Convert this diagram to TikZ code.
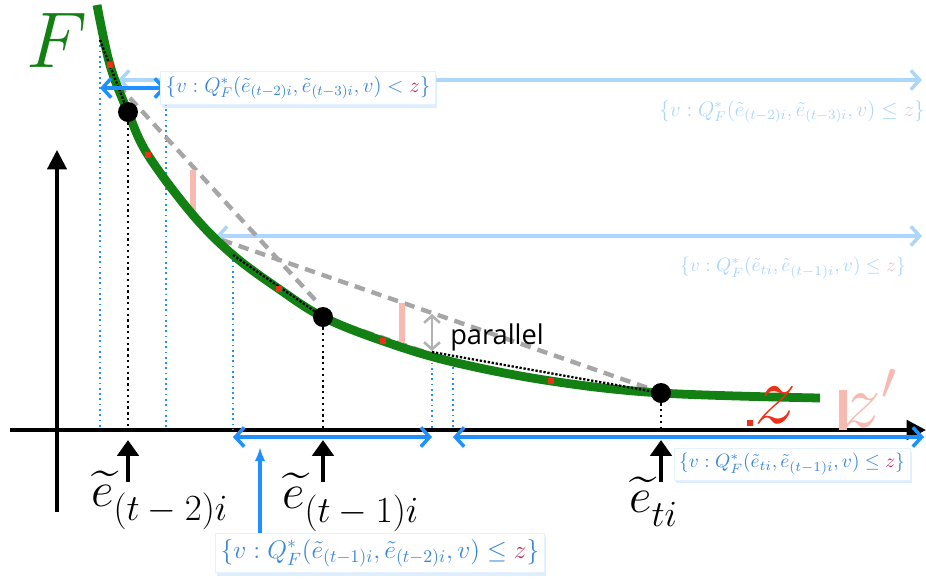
\RequirePackage{fix-cm}
\documentclass[tikz,border=0pt]{standalone}
\usepackage{amsmath}
\usepackage{amssymb}
\usepackage{fontspec}
\usepackage{xcolor}
\newfontfamily\notefont{Open Sans}
\usetikzlibrary{arrows.meta,shadows}

\definecolor{curvegreen}{RGB}{18,128,18}
\definecolor{setblue}{RGB}{30,144,255}
\definecolor{fadeblue}{RGB}{172,214,250}
\definecolor{textblue}{RGB}{55,135,220}
\definecolor{zred}{RGB}{200,40,85}
\definecolor{barpink}{RGB}{248,186,176}
\definecolor{markred}{RGB}{235,50,25}

% argument label with a large subscript
\newcommand{\elab}[1]{$\widetilde{e}_{\raisebox{-4pt}{\fontsize{21}{25}\selectfont$#1$}}$}

\begin{document}
\begin{tikzpicture}[x=0.02cm, y=-0.02cm]
  % Style definitions
  \tikzstyle{setbox} = [fill=white, draw=setblue!12, inner sep=3pt, text=textblue, drop shadow={shadow xshift=1pt, shadow yshift=-2pt, fill=setblue!30, opacity=0.5}]
  \tikzstyle{fadetext} = [text=fadeblue, inner sep=0pt]
  \tikzstyle{dot} = [circle, fill=black, inner sep=0pt, minimum size=0.4cm]
  \tikzstyle{redmark} = [fill=markred, inner sep=0pt, minimum size=0.13cm]
  \tikzstyle{elabel} = [font=\fontsize{28}{32}\selectfont, inner sep=0pt, anchor=base west]
  \tikzstyle{guide} = [setblue, dotted, line width=1pt]
  \tikzstyle{drop} = [black, dotted, line width=1.3pt]
  \tikzstyle{chord} = [black!35, line width=2.5pt, dash pattern=on 6pt off 4pt]
  \tikzstyle{bar} = [barpink, line width=3.5pt]
  \tikzstyle{setarrow} = [setblue, line width=2pt, {Straight Barb[length=5pt,width=11pt]}-{Straight Barb[length=5pt,width=11pt]}]
  \tikzstyle{fadearrow} = [fadeblue, line width=2pt, {Straight Barb[length=5pt,width=11pt]}-{Straight Barb[length=5pt,width=11pt]}]
  \tikzstyle{uparrow} = [black, line width=2.8pt, -{Triangle[length=9pt,width=12pt]}]

  \useasboundingbox (0,0) rectangle (926,579);

  % Faded sets
  \coordinate (fa1) at (118,80);  \coordinate (fb1) at (922,80);
  \coordinate (fa2) at (216,236); \coordinate (fb2) at (922,236);
  \draw[fadearrow] (fa1) -- (fb1);
  \draw[fadearrow] (fa2) -- (fb2);
  \node (fset1) [fadetext, font=\fontsize{12}{14}\selectfont] at (792,112) {$\{v : Q_F^*(\tilde e_{(t-2)i}, \tilde e_{(t-3)i}, v) \le \textcolor{zred!30}{z}\}$};
  \node (fset2) [fadetext, font=\fontsize{11}{13}\selectfont] at (793,268) {$\{v : Q_F^*(\tilde e_{ti}, \tilde e_{(t-1)i}, v) \le \textcolor{zred!30}{z}\}$};

  % Axes
  \coordinate (xa) at (10,430);  \coordinate (xb) at (926,430);
  \coordinate (ya) at (57,512);  \coordinate (yb) at (57,150);
  \draw[black, line width=2.3pt, -{Triangle[length=11pt,width=11pt]}] (xa) -- (xb);
  \draw[black, line width=1.8pt, -{Triangle[length=11pt,width=11pt]}] (ya) -- (yb);

  % Blue guide lines
  \foreach \gx/\gy in {100/40, 166/88, 233/255, 432/352, 453/362}
    \draw[guide] (\gx,\gy) -- (\gx,430);

  % Chords
  \coordinate (c1a) at (118,85);  \coordinate (c1b) at (318,303);
  \coordinate (c2a) at (222,240); \coordinate (c2b) at (648,388);
  \coordinate (c3a) at (330,320); \coordinate (c3b) at (455,362);
  \draw[chord] (c1a) -- (c1b);
  \draw[chord] (c2a) -- (c2b);
  \draw[chord] (c3a) -- (c3b);

  % Gaps
  \coordinate (g1a) at (193,170); \coordinate (g1b) at (193,215);
  \coordinate (g2a) at (402,303); \coordinate (g2b) at (402,346);
  \draw[bar] (g1a) -- (g1b);
  \draw[bar] (g2a) -- (g2b);
  \coordinate (pa) at (432,314); \coordinate (pb) at (432,351);
  \draw[black!30, line width=1.5pt, {Straight Barb[length=4pt,width=9pt]}-{Straight Barb[length=4pt,width=9pt]}] (pa) -- (pb);
  \node (par) [font=\notefont\fontsize{15.5}{18}\selectfont] at (497,337) {parallel};

  % Curve
  \draw[curvegreen, line width=5pt] plot[smooth, tension=0.6] coordinates {(97,5) (110,65) (128,112) (148,155) (193,215) (233,255) (279,289) (323,317) (383,341) (453,362) (551,381) (661,393) (820,398)};
  \coordinate (s1a) at (100,40);  \coordinate (s1b) at (128,112);
  \coordinate (s2a) at (233,255); \coordinate (s2b) at (323,317);
  \coordinate (s3a) at (432,352); \coordinate (s3b) at (661,393);
  \draw[drop, densely dotted] (s1a) -- (s1b);
  \draw[drop, densely dotted] (s2a) -- (s2b);
  \draw[drop, densely dotted] (s3a) -- (s3b);

  % Marks on the curve
  \foreach \mx/\my in {110/65, 148/155, 279/289, 383/341, 551/381, 750/423}
    \node[redmark] at (\mx,\my) {};

  % Points
  \node (e2) [dot] at (128,112) {};
  \node (e1) [dot] at (323,317) {};
  \node (e0) [dot] at (661,393) {};
  \coordinate (e2x) at (128,430);
  \coordinate (e1x) at (323,430);
  \coordinate (e0x) at (661,430);
  \draw[drop] (e2) -- (e2x);
  \draw[drop] (e1) -- (e1x);
  \draw[drop] (e0) -- (e0x);

  % Set arrows
  \coordinate (a1) at (100,88);  \coordinate (b1) at (166,88);
  \coordinate (a2) at (233,437); \coordinate (b2) at (432,437);
  \coordinate (a3) at (453,437); \coordinate (b3) at (924,437);
  \draw[setarrow] (a1) -- (b1);
  \draw[setarrow] (a2) -- (b2);
  \draw[setarrow] (a3) -- (b3);

  % Arguments
  \coordinate (u2) at (128,482); \coordinate (t2) at (128,440);
  \coordinate (u1) at (323,482); \coordinate (t1) at (323,440);
  \coordinate (u0) at (661,482); \coordinate (t0) at (661,440);
  \draw[uparrow] (u2) -- (t2);
  \draw[uparrow] (u1) -- (t1);
  \draw[uparrow] (u0) -- (t0);
  \node (le2) [elabel] at (91,506) {\elab{(t-2)i}};
  \node (le1) [elabel] at (282,508) {\elab{(t-1)i}};
  \node (le0) [elabel] at (629,512) {\elab{ti}};

  % Letters
  \node (F) [text=curvegreen, font=\fontsize{45}{50}\selectfont] at (57,40) {$F$};
  \node (z) [text=markred, font=\fontsize{48}{52}\selectfont] at (776,405) {$z$};
  \coordinate (zb1) at (843,390); \coordinate (zb2) at (843,430);
  \draw[barpink, line width=4.5pt] (zb1) -- (zb2);
  \node (zp) [text=barpink, font=\fontsize{44}{48}\selectfont] at (870,398) {$z'$};

  % Set boxes
  \node (set1) [setbox, font=\fontsize{12}{14}\selectfont] at (298,88) {$\{v : Q_F^*(\tilde e_{(t-2)i}, \tilde e_{(t-3)i}, v) < \textcolor{zred}{z}\}$};
  \node (set2) [setbox, font=\fontsize{11}{13}\selectfont] at (792,464) {$\{v : Q_F^*(\tilde e_{ti}, \tilde e_{(t-1)i}, v) \le \textcolor{zred}{z}\}$};
  \node (set3) [setbox, font=\fontsize{14.5}{17}\selectfont] at (380,553) {$\{v : Q_F^*(\tilde e_{(t-1)i}, \tilde e_{(t-2)i}, v) \le \textcolor{zred}{z}\}$};
  \coordinate (tip3) at (260,447);
  \draw[setblue, line width=1.8pt, -{Latex[length=8pt,width=6pt]}] (set3.north -| tip3) -- (tip3);
\end{tikzpicture}
\end{document}
